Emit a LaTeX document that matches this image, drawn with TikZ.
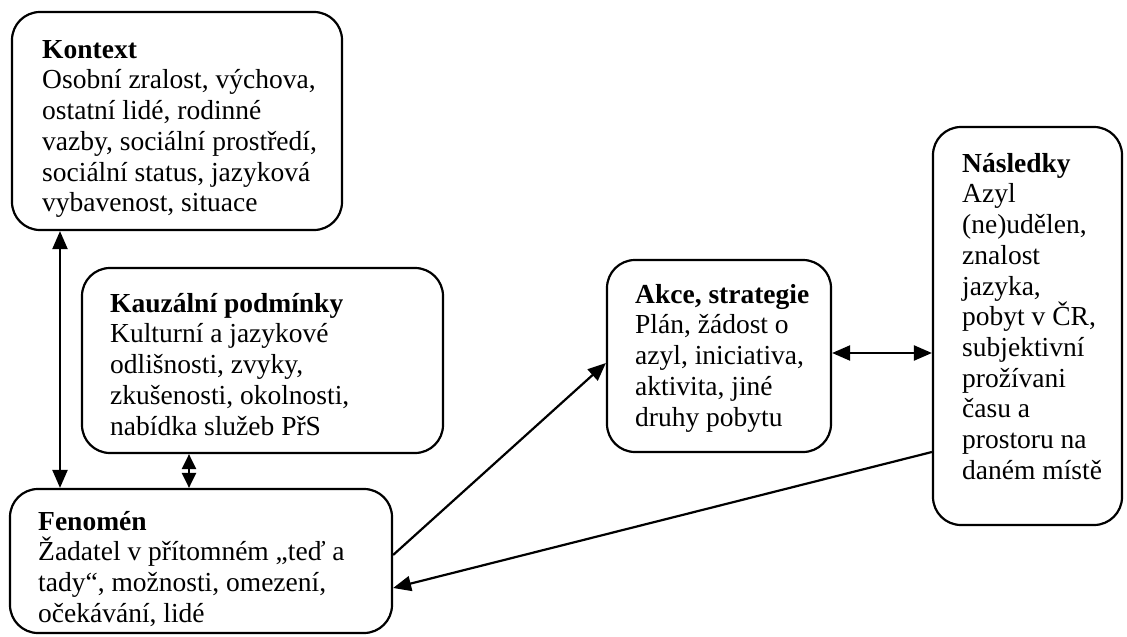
\documentclass[tikz,border=0pt]{standalone}
\usepackage{fontspec}
\setmainfont{Liberation Serif}
\usetikzlibrary{arrows.meta}
\begin{document}
\begin{tikzpicture}[x=1pt,y=-1pt,
 box/.style={draw, line width=2.2pt, rounded corners=28pt, inner sep=0pt},
 txt/.style={anchor=north west, inner sep=0pt, align=left, font=\fontsize{27.5}{30.7}\selectfont},
 tip/.tip={Triangle[length=18pt,width=15pt]},
 stip/.tip={Triangle[length=15pt,width=14pt]},
 conn/.style={line width=2.2pt, -tip},
 biconn/.style={line width=2.2pt, tip-tip},
 sbiconn/.style={line width=2.2pt, stip-stip}]
\useasboundingbox (0,0) rectangle (1127,637);
% boxes
\node[box, minimum width=330pt, minimum height=218pt] (kontext) at (177,121) {};
\node[box, minimum width=361pt, minimum height=185pt] (kauzal) at (262.5,360.5) {};
\node[box, minimum width=382pt, minimum height=144pt] (fenomen) at (201,561) {};
\node[box, minimum width=224pt, minimum height=192pt] (akce) at (719,356) {};
\node[box, minimum width=189pt, minimum height=398pt] (nasledky) at (1027.5,326) {};
% texts
\node[txt] (kontextT) at (42,36) {\rule{0pt}{22pt}\textbf{Kontext}\\Osobní zralost, výchova,\\ostatní lidé, rodinné\\vazby, sociální prostředí,\\sociální status, jazyková\\vybavenost, situace};
\node[txt] (kauzalT) at (110,290) {\rule{0pt}{22pt}\textbf{Kauzální podmínky}\\Kulturní a jazykové\\odlišnosti, zvyky,\\zkušenosti, okolnosti,\\nabídka služeb PřS};
\node[txt] (fenomenT) at (38,508) {\rule{0pt}{22pt}\textbf{Fenomén}\\Žadatel v přítomném „teď a\\tady“, možnosti, omezení,\\očekávání, lidé};
\node[txt] (akceT) at (635,281) {\rule{0pt}{22pt}\textbf{Akce, strategie}\\Plán, žádost o\\azyl, iniciativa,\\aktivita, jiné\\druhy pobytu};
\node[txt] (nasledkyT) at (962,150) {\rule{0pt}{22pt}\textbf{Následky}\\Azyl\\(ne)udělen,\\znalost\\jazyka,\\pobyt v ČR,\\subjektivní\\prožívani\\času a\\prostoru na\\daném místě};
% connectors
\draw[biconn] (kontext.south -| 60,0) -- (fenomen.north -| 60,0);
\draw[sbiconn] (kauzal.south -| 189,0) -- (fenomen.north -| 189,0);
\draw[conn] (fenomen.east |- 0,555) -- (akce.west |- 0,363);
\draw[biconn] (akce.east |- 0,353) -- (nasledky.west |- 0,353);
\draw[conn] (nasledky.west |- 0,452) -- (fenomen.east |- 0,588);
\end{tikzpicture}
\end{document}
